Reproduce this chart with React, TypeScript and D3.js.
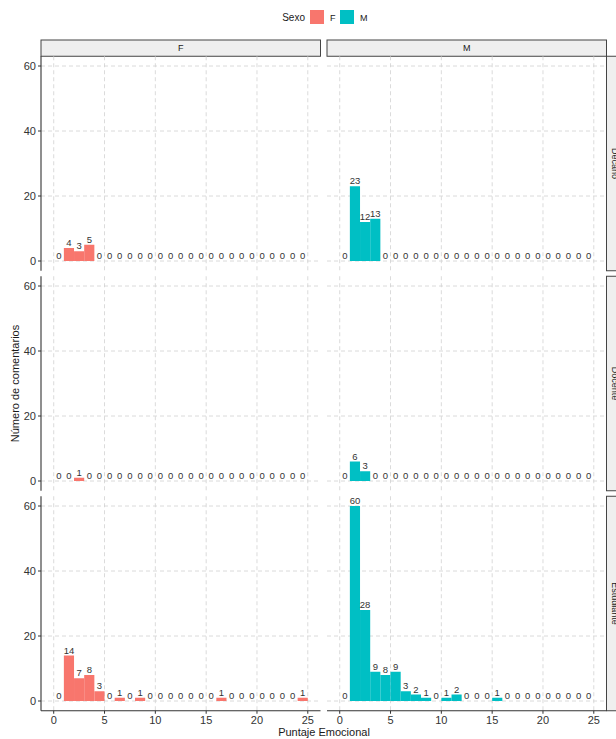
import React from "react";
import * as d3 from "d3";

// Bin counts (bins of width 1 from 0 to 25), per role and sex
const sexes = ["F", "M"];
const roles = ["Decano", "Docente", "Estudiante"];
const decanoF = [0, 4, 3, 5, 0, 0, 0, 0, 0, 0, 0, 0, 0, 0, 0, 0, 0, 0, 0, 0, 0, 0, 0, 0, 0];
const decanoM = [0, 23, 12, 13, 0, 0, 0, 0, 0, 0, 0, 0, 0, 0, 0, 0, 0, 0, 0, 0, 0, 0, 0, 0, 0];
const docenteF = [0, 0, 1, 0, 0, 0, 0, 0, 0, 0, 0, 0, 0, 0, 0, 0, 0, 0, 0, 0, 0, 0, 0, 0, 0];
const docenteM = [0, 6, 3, 0, 0, 0, 0, 0, 0, 0, 0, 0, 0, 0, 0, 0, 0, 0, 0, 0, 0, 0, 0, 0, 0];
const estudianteF = [0, 14, 7, 8, 3, 0, 1, 0, 1, 0, 0, 0, 0, 0, 0, 0, 1, 0, 0, 0, 0, 0, 0, 0, 1];
const estudianteM = [0, 60, 28, 9, 8, 9, 3, 2, 1, 0, 1, 2, 0, 0, 0, 1, 0, 0, 0, 0, 0, 0, 0, 0, 0];
const binWidth = 1;
const xTicks = [0, 5, 10, 15, 20, 25];
const yTicks = [0, 20, 40, 60];
const sexColors = { F: "#F8766D", M: "#00BFC4" };

const panelData: Record<string, Record<string, number[]>> = {
  Decano: { F: decanoF, M: decanoM },
  Docente: { F: docenteF, M: docenteM },
  Estudiante: { F: estudianteF, M: estudianteM },
};

const W = 616;
const H = 739;
const FONT = "'Liberation Sans', Arial, Helvetica, sans-serif";

const colLeft = [41, 327];
const colWidth = 279.5;
const rowTop = [56.25, 276.25, 496.25];
const rowHeight = 214.5;
const stripTop = 40;
const stripH = 16.25;
const rightStripX = 606.5;

export default function App() {
  const grid = "#d0d0d0";
  return (
    <svg width={W} height={H} style={{ position: "absolute", left: 0, top: 0, background: "#fff" }}>
      <g fontFamily={FONT}>
        {/* legend */}
        <text x={305} y={21} fontSize={10} textAnchor="end" fill="#1a1a1a">Sexo</text>
        {sexes.map((s, i) => (
          <g key={s} transform={`translate(${310 + i * 30},10)`}>
            <rect width={14} height={14} fill={sexColors[s as "F" | "M"]} />
            <text x={20} y={11} fontSize={9} fill="#1a1a1a">{s}</text>
          </g>
        ))}

        {sexes.map((sex, ci) => {
          const x = d3.scaleLinear().domain([-1.25, 26.25]).range([colLeft[ci], colLeft[ci] + colWidth]);
          return (
            <g key={sex}>
              {/* top strip */}
              <rect x={colLeft[ci]} y={stripTop} width={colWidth} height={stripH} fill="#efefef" stroke="#444" strokeWidth={1} />
              <text x={colLeft[ci] + colWidth / 2} y={stripTop + stripH / 2 + 3} fontSize={9} textAnchor="middle" fill="#1a1a1a">{sex}</text>
              {roles.map((role, ri) => {
                const y = d3.scaleLinear().domain([-3, 63]).range([rowTop[ri] + rowHeight, rowTop[ri]]);
                const vals = panelData[role][sex];
                const top = rowTop[ri];
                const bottom = rowTop[ri] + rowHeight;
                return (
                  <g key={role}>
                    {/* gridlines */}
                    {yTicks.map((t) => (
                      <line key={"gy" + t} x1={colLeft[ci]} x2={colLeft[ci] + colWidth} y1={y(t)} y2={y(t)} stroke={grid} strokeWidth={0.8} strokeDasharray="4,3" />
                    ))}
                    {xTicks.map((t) => (
                      <line key={"gx" + t} x1={x(t)} x2={x(t)} y1={top} y2={bottom} stroke={grid} strokeWidth={0.8} strokeDasharray="4,3" />
                    ))}
                    {/* bars */}
                    {vals.map((v, i) =>
                      v > 0 ? (
                        <rect key={"b" + i} x={x(i * binWidth)} width={x((i + 1) * binWidth) - x(i * binWidth)} y={y(v)} height={y(0) - y(v)} fill={sexColors[sex as "F" | "M"]} />
                      ) : null
                    )}
                    {/* count labels */}
                    {vals.map((v, i) => (
                      <text key={"l" + i} x={x((i + 0.5) * binWidth)} y={y(v) - 2} fontSize={9.5} textAnchor="middle" fill="#333">{v}</text>
                    ))}
                    {/* y axis on first column */}
                    {ci === 0 && (
                      <g>
                        <line x1={colLeft[0]} x2={colLeft[0]} y1={top} y2={bottom} stroke="#333" strokeWidth={1.1} />
                        {yTicks.map((t) => (
                          <g key={"yt" + t}>
                            <line x1={colLeft[0] - 3} x2={colLeft[0]} y1={y(t)} y2={y(t)} stroke="#333" strokeWidth={1} />
                            <text x={colLeft[0] - 5} y={y(t) + 3.8} fontSize={11} textAnchor="end" fill="#333">{t}</text>
                          </g>
                        ))}
                      </g>
                    )}
                    {/* right strip on last column */}
                    {ci === 1 && (
                      <g>
                        <rect x={rightStripX} y={top} width={stripH} height={rowHeight} fill="#efefef" stroke="#444" strokeWidth={1} />
                        <text transform={`translate(${rightStripX + stripH / 2 - 3},${top + rowHeight / 2}) rotate(90)`} fontSize={9} textAnchor="middle" fill="#1a1a1a">{role}</text>
                      </g>
                    )}
                    {/* x axis on bottom row */}
                    {ri === roles.length - 1 && (
                      <g>
                        <line x1={colLeft[ci]} x2={colLeft[ci] + colWidth} y1={bottom} y2={bottom} stroke="#333" strokeWidth={1.1} />
                        {xTicks.map((t) => (
                          <g key={"xt" + t}>
                            <line x1={x(t)} x2={x(t)} y1={bottom} y2={bottom + 3} stroke="#333" strokeWidth={1} />
                            <text x={x(t)} y={bottom + 13} fontSize={11} textAnchor="middle" fill="#333">{t}</text>
                          </g>
                        ))}
                      </g>
                    )}
                  </g>
                );
              })}
            </g>
          );
        })}

        {/* axis titles */}
        <text x={324} y={736} fontSize={11} textAnchor="middle" fill="#1a1a1a">Puntaje Emocional</text>
        <text transform={`translate(19,${rowTop[0] + (rowTop[2] + rowHeight - rowTop[0]) / 2}) rotate(-90)`} fontSize={11} textAnchor="middle" fill="#1a1a1a">Número de comentarios</text>
      </g>
    </svg>
  );
}
